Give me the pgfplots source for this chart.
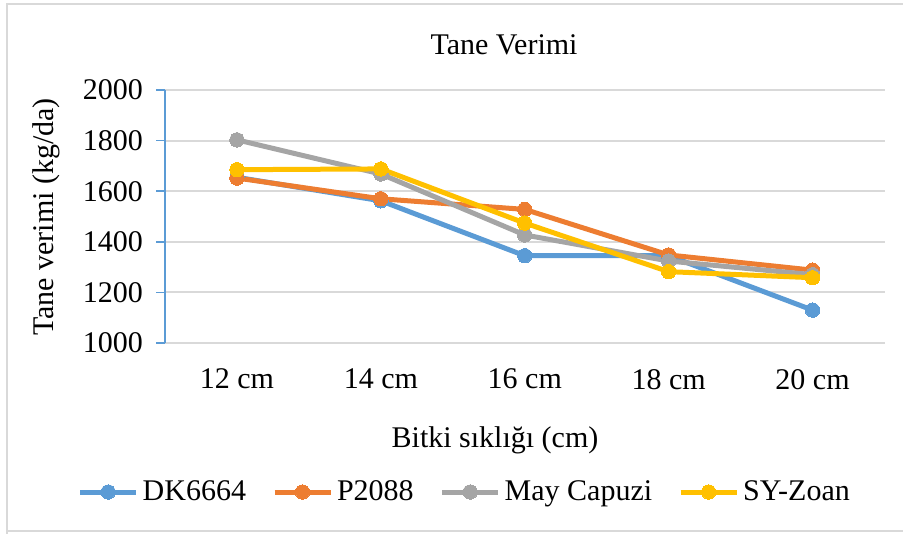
\documentclass[border=0pt]{standalone}
\usepackage{pgfplots}
\pgfplotsset{compat=1.18}
\usepackage{fontspec}
\setmainfont{Liberation Serif}
\definecolor{cBlue}{HTML}{5B9BD5}
\definecolor{cOrange}{HTML}{ED7D31}
\definecolor{cGray}{HTML}{A5A5A5}
\definecolor{cYellow}{HTML}{FFC000}
\definecolor{cGrid}{HTML}{D9D9D9}
\newcommand{\fs}{\fontsize{15}{18}\selectfont}
\begin{document}
\begin{tikzpicture}[x=0.5pt,y=0.5pt]
\path[use as bounding box] (0,0) rectangle (903,534);
\draw[cGrid,line width=1pt] (7,-5) -- (7,530) -- (910,530);
\draw[cGrid,line width=1pt] (7,3) -- (910,3);
\node[font=\fs] at (504,489) {Tane Verimi};
\node[font=\fs] at (495,94) {Bitki sıklığı (cm)};
\node[font=\fs,rotate=90] at (46,317) {Tane verimi (kg/da)};
\begin{axis}[
  at={(82.5pt,95.5pt)}, anchor=south west,
  scale only axis, width=359.75pt, height=126.5pt,
  xmin=-0.5, xmax=4.5, ymin=1000, ymax=2000,
  xtick={0,1,2,3,4},
  xticklabels={12 cm,14 cm,16 cm,18 cm,20 cm},
  ytick={1000,1200,1400,1600,1800,2000},
  axis x line*=bottom, axis y line*=left,
  x axis line style={cGrid,line width=1pt,-},
  y axis line style={cBlue,line width=0.8pt,-},
  xtick style={draw=none},
  ytick style={cBlue,line width=0.8pt},
  tick align=outside, major tick length=4.5pt,
  ymajorgrids, grid style={cGrid,line width=1pt},
  tick label style={font=\fs},
  /pgf/number format/assume math mode=true,
  /pgf/number format/1000 sep={},
  xticklabel style={yshift=-5pt},
  yticklabel style={xshift=-3pt},
  clip=false,
  legend columns=4,
  legend style={at={(0.418,-0.589)}, anchor=center, draw=none, font=\fs,
    inner sep=0pt, /tikz/every even column/.append style={column sep=11pt}},
  legend cell align=left,
  legend image code/.code={\draw[mark repeat=2,mark phase=2,#1] plot coordinates {(0pt,0pt) (14pt,0pt) (28pt,0pt)};},
  every axis plot/.append style={line width=2.5pt, mark=*, mark size=3.6pt},
]
\addplot[cBlue, mark options={fill=cBlue,draw=cBlue,line width=0pt}] coordinates {(0,1655) (1,1562) (2,1345) (3,1345) (4,1130)};
\addlegendentry{DK6664}
\addplot[cOrange, mark options={fill=cOrange,draw=cOrange,line width=0pt}] coordinates {(0,1652) (1,1570) (2,1528) (3,1348) (4,1288)};
\addlegendentry{P2088}
\addplot[cGray, mark options={fill=cGray,draw=cGray,line width=0pt}] coordinates {(0,1803) (1,1668) (2,1427) (3,1324) (4,1270)};
\addlegendentry{May Capuzi}
\addplot[cYellow, mark options={fill=cYellow,draw=cYellow,line width=0pt}] coordinates {(0,1685) (1,1688) (2,1474) (3,1282) (4,1258)};
\addlegendentry{SY-Zoan}
\end{axis}
\end{tikzpicture}
\end{document}
